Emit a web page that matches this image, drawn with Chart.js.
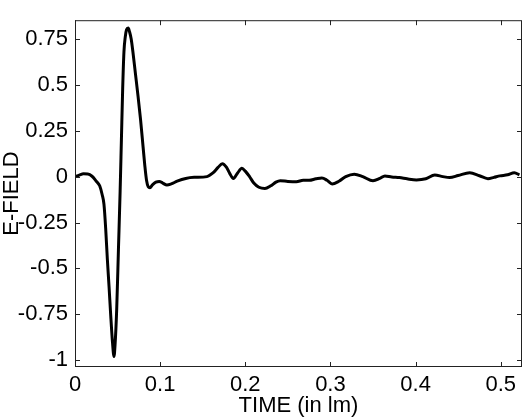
<!DOCTYPE html>
<html>
<head>
<meta charset="utf-8">
<script src="https://cdn.jsdelivr.net/npm/chart.js@4/dist/chart.umd.min.js"></script>
<style>
  html, body { margin: 0; padding: 0; background: #fff; overflow: hidden; }
  #wrap { width: 532px; height: 420px; }
</style>
</head>
<body>
<div id="wrap"><canvas id="chart"></canvas></div>
<script>
// time values
const time = [
  0, 0.005, 0.010, 0.015, 0.020, 0.025, 0.029, 0.032, 0.034, 0.036,
  0.038, 0.040, 0.042, 0.044, 0.0458, 0.047, 0.049, 0.051, 0.053, 0.0545,
  0.056, 0.0575, 0.059, 0.0605, 0.0625, 0.064, 0.066, 0.068, 0.071, 0.074,
  0.077, 0.080, 0.082, 0.084, 0.086, 0.088, 0.091, 0.095, 0.099, 0.103,
  0.108, 0.113, 0.120, 0.130, 0.140, 0.155, 0.162, 0.168, 0.173, 0.178,
  0.182, 0.186, 0.191, 0.196, 0.200, 0.205, 0.210, 0.216, 0.223, 0.230,
  0.236, 0.241, 0.250, 0.260, 0.268, 0.275, 0.283, 0.290, 0.296, 0.302,
  0.310, 0.318, 0.328, 0.338, 0.350, 0.358, 0.364, 0.372, 0.381, 0.390,
  0.401, 0.412, 0.4225, 0.432, 0.440, 0.450, 0.4636, 0.475, 0.485, 0.492,
  0.499, 0.508, 0.516, 0.522
]
// E-field values
const field = [
  0, 0.008, 0.015, 0.014, 0.002, -0.025, -0.05, -0.10, -0.15, -0.28,
  -0.45, -0.60, -0.76, -0.90, -0.98, -0.92, -0.72, -0.40, -0.08, 0.20,
  0.48, 0.68, 0.76, 0.80, 0.81, 0.79, 0.75, 0.68, 0.56, 0.44,
  0.31, 0.16, 0.06, -0.02, -0.055, -0.06, -0.045, -0.03, -0.026, -0.035,
  -0.046, -0.04, -0.025, -0.01, -0.004, 0.0, 0.02, 0.05, 0.07, 0.05,
  0.015, -0.01, 0.02, 0.045, 0.03, 0.0, -0.035, -0.058, -0.065, -0.05,
  -0.03, -0.022, -0.026, -0.028, -0.02, -0.02, -0.012, -0.007, -0.02, -0.04,
  -0.025, 0.0, 0.013, 0.0, -0.023, -0.01, 0.004, -0.002, -0.005, -0.012,
  -0.018, -0.012, 0.009, 0.0, -0.005, 0.006, 0.021, 0.005, -0.011, -0.004,
  0.004, 0.01, 0.021, 0.009
]
const xTicks = [0, 0.1, 0.2, 0.3, 0.4, 0.5]
const yTicks = [0.75, 0.5, 0.25, 0, -0.25, -0.5, -0.75, -1]

const points = time.map((t, i) => ({x: t, y: field[i]}))
const font = {family: "'Liberation Sans', Arial, sans-serif", size: 22}

// matlab style box with inward ticks
const boxPlugin = {
  id: 'box',
  afterDraw(chart){
    const {ctx, chartArea: a, scales} = chart
    ctx.save()
    ctx.strokeStyle = '#222'
    ctx.lineWidth = 1
    ctx.strokeRect(a.left + 0.5, a.top + 0.5, a.right - a.left - 1, a.bottom - a.top - 1)
    ctx.beginPath()
    xTicks.forEach(v => {
      const px = Math.round(scales.x.getPixelForValue(v)) + 0.5
      ctx.moveTo(px, a.bottom); ctx.lineTo(px, a.bottom - 5)
      ctx.moveTo(px, a.top); ctx.lineTo(px, a.top + 5)
    })
    yTicks.forEach(v => {
      const py = Math.round(scales.y.getPixelForValue(v)) + 0.5
      ctx.moveTo(a.left, py); ctx.lineTo(a.left + 5, py)
      ctx.moveTo(a.right, py); ctx.lineTo(a.right - 5, py)
    })
    ctx.stroke()
    ctx.restore()
  }
}

new Chart(document.getElementById('chart'), {
  type: 'line',
  data: {
    datasets: [{
      data: points,
      borderColor: '#000',
      borderWidth: 3,
      pointRadius: 0,
      cubicInterpolationMode: 'monotone',
      fill: false
    }]
  },
  options: {
    responsive: true,
    maintainAspectRatio: false,
    animation: false,
    layout: {padding: {top: 15, right: 10, bottom: 0, left: 0}},
    plugins: {legend: {display: false}, tooltip: {enabled: false}},
    scales: {
      x: {
        type: 'linear',
        min: 0,
        max: 0.525,
        afterBuildTicks: s => { s.ticks = xTicks.map(v => ({value: v})) },
        afterFit: s => { s.height = 53 },
        grid: {display: false, drawTicks: false},
        border: {display: false},
        ticks: {color: '#000', font: font, padding: 5, maxRotation: 0,
          callback: v => String(v)},
        title: {display: true, text: 'TIME (in lm)', color: '#000', font: font,
          padding: {top: 0, bottom: 1}}
      },
      y: {
        min: -1.037,
        max: 0.852,
        afterBuildTicks: s => { s.ticks = yTicks.map(v => ({value: v})) },
        afterFit: s => { s.width = 75 },
        grid: {display: false, drawTicks: false},
        border: {display: false},
        ticks: {color: '#000', font: font, padding: 7,
          callback: v => String(v)},
        title: {display: true, text: 'E-FIELD', color: '#000', font: font,
          padding: {top: -1, bottom: 0}}
      }
    }
  },
  plugins: [boxPlugin]
})
</script>
</body>
</html>
